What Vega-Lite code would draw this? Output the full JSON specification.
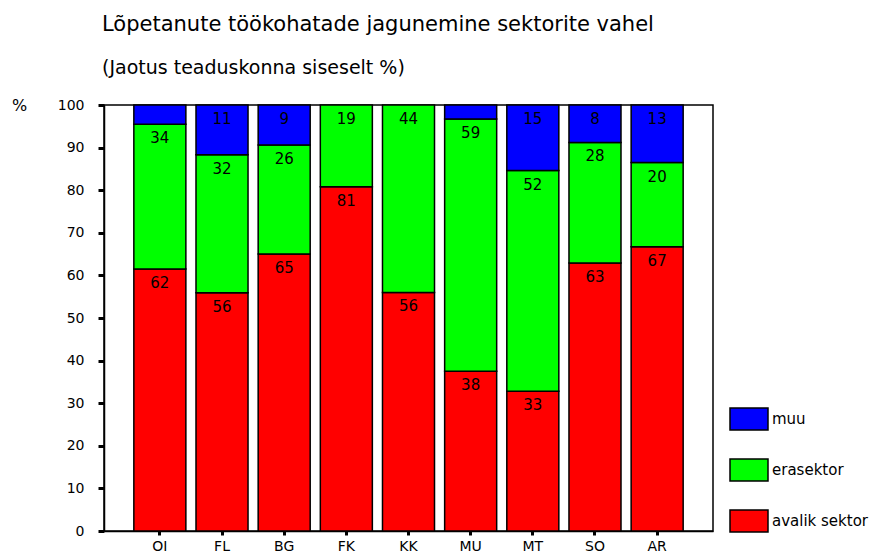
{
  "$schema": "https://vega.github.io/schema/vega-lite/v6.json",
  "width": 609,
  "height": 426,
  "autosize": {"type": "none"},
  "padding": {"left": 104, "top": 105, "right": 165, "bottom": 25},
  "background": "white",
  "title": {
    "text": "Lõpetanute töökohatade jagunemine sektorite vahel",
    "subtitle": "(Jaotus teaduskonna siseselt %)",
    "anchor": "start",
    "frame": "group",
    "dx": -2,
    "offset": 19,
    "font": "DejaVu Sans",
    "fontSize": 21,
    "fontWeight": "normal",
    "color": "black",
    "subtitleFont": "DejaVu Sans",
    "subtitleFontSize": 19,
    "subtitleColor": "black",
    "subtitlePadding": 24
  },
  "config": {
    "view": {"stroke": "black", "strokeWidth": 1.5},
    "font": "DejaVu Sans"
  },
  "data": {
    "values": [
      {"fak": "OI", "sektor": "avalik sektor", "ord": 1, "value": 61.5, "label": "62"},
      {"fak": "OI", "sektor": "erasektor", "ord": 2, "value": 34, "label": "34"},
      {"fak": "OI", "sektor": "muu", "ord": 3, "value": 4.5, "label": ""},
      {"fak": "FL", "sektor": "avalik sektor", "ord": 1, "value": 55.9, "label": "56"},
      {"fak": "FL", "sektor": "erasektor", "ord": 2, "value": 32.4, "label": "32"},
      {"fak": "FL", "sektor": "muu", "ord": 3, "value": 11.7, "label": "11"},
      {"fak": "BG", "sektor": "avalik sektor", "ord": 1, "value": 65, "label": "65"},
      {"fak": "BG", "sektor": "erasektor", "ord": 2, "value": 25.6, "label": "26"},
      {"fak": "BG", "sektor": "muu", "ord": 3, "value": 9.4, "label": "9"},
      {"fak": "FK", "sektor": "avalik sektor", "ord": 1, "value": 80.8, "label": "81"},
      {"fak": "FK", "sektor": "erasektor", "ord": 2, "value": 19.2, "label": "19"},
      {"fak": "KK", "sektor": "avalik sektor", "ord": 1, "value": 56, "label": "56"},
      {"fak": "KK", "sektor": "erasektor", "ord": 2, "value": 44, "label": "44"},
      {"fak": "MU", "sektor": "avalik sektor", "ord": 1, "value": 37.5, "label": "38"},
      {"fak": "MU", "sektor": "erasektor", "ord": 2, "value": 59.2, "label": "59"},
      {"fak": "MU", "sektor": "muu", "ord": 3, "value": 3.3, "label": ""},
      {"fak": "MT", "sektor": "avalik sektor", "ord": 1, "value": 32.8, "label": "33"},
      {"fak": "MT", "sektor": "erasektor", "ord": 2, "value": 51.8, "label": "52"},
      {"fak": "MT", "sektor": "muu", "ord": 3, "value": 15.4, "label": "15"},
      {"fak": "SO", "sektor": "avalik sektor", "ord": 1, "value": 62.9, "label": "63"},
      {"fak": "SO", "sektor": "erasektor", "ord": 2, "value": 28.3, "label": "28"},
      {"fak": "SO", "sektor": "muu", "ord": 3, "value": 8.8, "label": "8"},
      {"fak": "AR", "sektor": "avalik sektor", "ord": 1, "value": 66.7, "label": "67"},
      {"fak": "AR", "sektor": "erasektor", "ord": 2, "value": 19.8, "label": "20"},
      {"fak": "AR", "sektor": "muu", "ord": 3, "value": 13.5, "label": "13"}
    ]
  },
  "transform": [
    {"stack": "value", "groupby": ["fak"], "sort": [{"field": "ord", "order": "ascending"}], "as": ["y0", "y1"]}
  ],
  "encoding": {
    "x": {
      "field": "fak",
      "type": "nominal",
      "sort": null,
      "scale": {"paddingInner": 0.163, "paddingOuter": 0.48},
      "axis": {
        "title": null,
        "labelAngle": 0,
        "labelFontSize": 14,
        "labelColor": "black",
        "labelPadding": 4,
        "tickSize": 4,
        "tickWidth": 3,
        "tickColor": "black",
        "domainColor": "black",
        "domainWidth": 1.5
      }
    }
  },
  "layer": [
    {
      "mark": {"type": "bar", "stroke": "black", "strokeWidth": 1.5, "opacity": 1},
      "encoding": {
        "y": {
          "field": "y1",
          "type": "quantitative",
          "scale": {"domain": [0, 100], "nice": false},
          "axis": {
            "title": "%",
            "titleAngle": 0,
            "titleX": -85,
            "titleY": 0,
            "titleBaseline": "middle",
            "titleAlign": "center",
            "titleFontSize": 16,
            "titleFontWeight": "normal",
            "titleColor": "black",
            "values": [0, 10, 20, 30, 40, 50, 60, 70, 80, 90, 100],
            "grid": false,
            "labelFontSize": 14,
            "labelColor": "black",
            "labelPadding": 14,
            "tickSize": 6,
            "tickWidth": 3,
            "tickColor": "black",
            "domainColor": "black",
            "domainWidth": 1.5
          }
        },
        "y2": {"field": "y0"},
        "color": {
          "field": "sektor",
          "type": "nominal",
          "scale": {"domain": ["muu", "erasektor", "avalik sektor"], "range": ["#0000FF", "#00FF00", "#FF0000"]},
          "legend": {
            "title": null,
            "orient": "none",
            "legendX": 625,
            "legendY": 294,
            "padding": 0,
            "symbolType": "M-1,-0.58H1V0.58H-1Z",
            "symbolSize": 1444,
            "symbolStrokeColor": "black",
            "symbolStrokeWidth": 1.5,
            "symbolOpacity": 1,
            "labelFontSize": 15,
            "labelColor": "black",
            "labelOffset": 3,
            "rowPadding": 16
          }
        }
      }
    },
    {
      "mark": {"type": "text", "dy": 14, "baseline": "middle", "fontSize": 15, "color": "black"},
      "encoding": {
        "y": {"field": "y1", "type": "quantitative"},
        "text": {"field": "label"}
      }
    }
  ]
}
